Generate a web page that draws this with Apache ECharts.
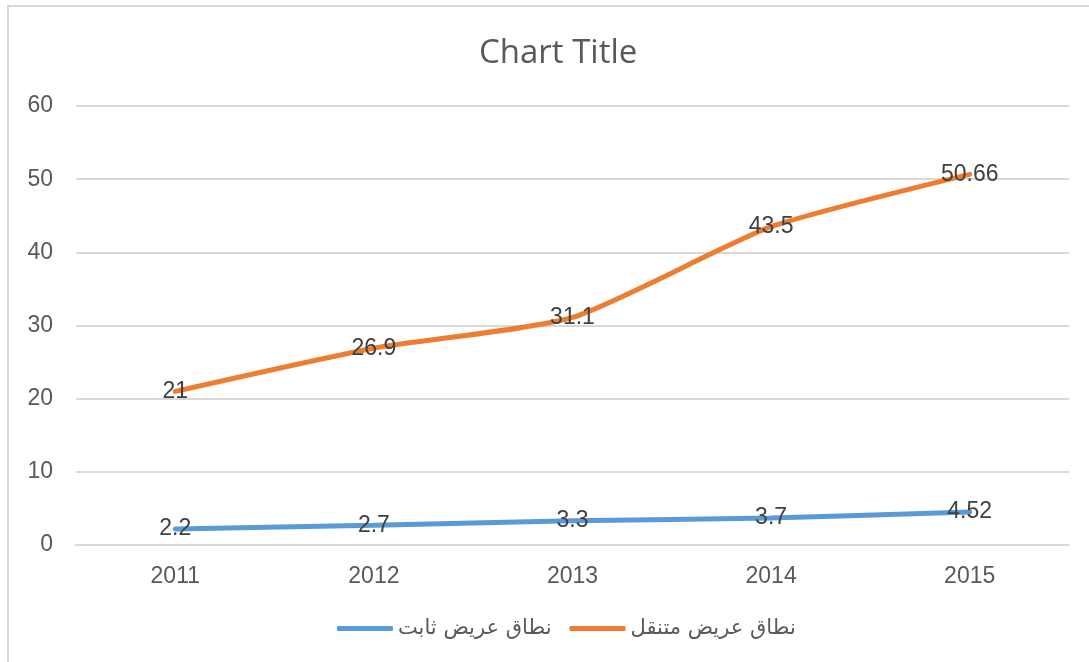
<!DOCTYPE html>
<html>
<head>
<meta charset="utf-8">
<script src="https://cdn.jsdelivr.net/npm/echarts@6/dist/echarts.min.js"></script>
<style>
html,body{margin:0;padding:0;background:#fff;}
#main{width:1089px;height:662px;}
</style>
</head>
<body>
<div id="main"></div>
<script>
const categories = ['2011', '2012', '2013', '2014', '2015'];
const fixedName = 'نطاق عريض ثابت';
const mobileName = 'نطاق عريض متنقل';
const fixedValues = [2.2, 2.7, 3.3, 3.7, 4.52];
const mobileValues = [21, 26.9, 31.1, 43.5, 50.66];
const yTicks = { min: 0, max: 60, interval: 10 };

const FONT = 'Liberation Sans, Arial, sans-serif';
const chart = echarts.init(document.getElementById('main'));
const labelStyle = {
  show: true,
  position: 'inside',
  fontSize: 23,
  color: '#404040',
  fontFamily: FONT
};
chart.setOption({
  animation: false,
  backgroundColor: '#fff',
  graphic: [{
    type: 'rect',
    shape: { x: 8, y: 6, width: 1100, height: 700 },
    style: { fill: 'none', stroke: '#d9d9d9', lineWidth: 2 },
    silent: true
  }],
  title: {
    text: 'Chart Title',
    left: 474,
    top: 32,
    textStyle: { fontSize: 33, fontWeight: 'normal', color: '#595959', fontFamily: 'Open Sans, sans-serif' }
  },
  legend: {
    data: [fixedName, mobileName],
    bottom: 18,
    left: 332,
    icon: 'roundRect',
    itemWidth: 56,
    itemHeight: 5,
    itemGap: 18,
    textStyle: { fontSize: 21, color: '#595959', fontFamily: 'DejaVu Sans, sans-serif' }
  },
  grid: { left: 76, right: 20, top: 106, bottom: 117, containLabel: false },
  xAxis: {
    type: 'category',
    data: categories,
    boundaryGap: true,
    axisLine: { show: true, lineStyle: { color: '#d9d9d9', width: 2 } },
    axisTick: { show: false },
    axisLabel: { fontSize: 23, color: '#595959', margin: 20, fontFamily: FONT }
  },
  yAxis: {
    type: 'value',
    min: yTicks.min, max: yTicks.max, interval: yTicks.interval,
    axisLine: { show: false },
    axisTick: { show: false },
    splitLine: { lineStyle: { color: '#d9d9d9', width: 2 } },
    axisLabel: { fontSize: 23, color: '#595959', margin: 23, fontFamily: FONT }
  },
  series: [
    {
      name: fixedName,
      type: 'line',
      data: fixedValues,
      smooth: 0.2,
      symbol: 'circle',
      symbolSize: 1,
      lineStyle: { width: 5, color: '#5B9BD5', cap: 'round' },
      itemStyle: { color: '#5B9BD5' },
      label: labelStyle
    },
    {
      name: mobileName,
      type: 'line',
      data: mobileValues,
      smooth: 0.2,
      symbol: 'circle',
      symbolSize: 1,
      lineStyle: { width: 5, color: '#ED7D31', cap: 'round' },
      itemStyle: { color: '#ED7D31' },
      label: labelStyle
    }
  ]
});
</script>
</body>
</html>
